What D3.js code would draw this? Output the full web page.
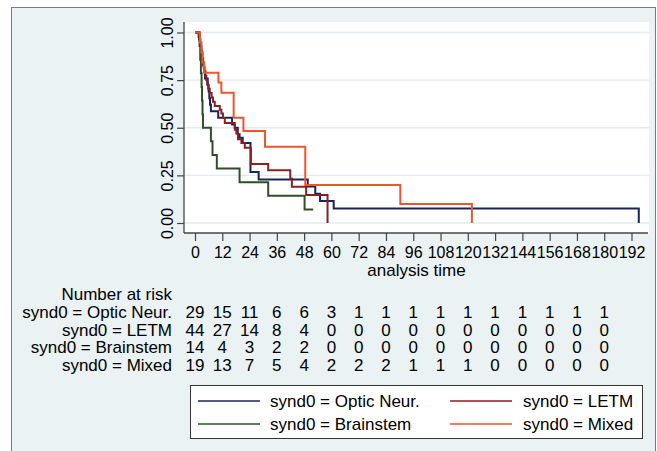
<!DOCTYPE html>
<html><head><meta charset="utf-8">
<script src="https://cdn.jsdelivr.net/npm/d3@7/dist/d3.min.js"></script>
<style>
html,body{margin:0;padding:0;background:#fff;}
svg text{font-family:"Liberation Sans",Arial,sans-serif;fill:#000;}
</style></head>
<body>
<svg id="chart" width="657" height="451"></svg>
<script>
// ---- data ----
const xTicks = [0,12,24,36,48,60,72,84,96,108,120,132,144,156,168,180,192];
const yTicks = [0,0.25,0.5,0.75,1];
const seriesNames = ["synd0 = Optic Neur.","synd0 = LETM","synd0 = Brainstem","synd0 = Mixed"];

const opticTime = [0,1.8,2.3,2.8,3.2,3.6,4.0,4.4,5.6,6.0,6.3,6.6,7.0,10.2,16.3,17.5,18.8,19.6,21.0,24.4,28.0,49.6,52.9,55.0,61.0,195.2];
const opticSurv = [1,0.966,0.931,0.897,0.862,0.828,0.793,0.759,0.724,0.69,0.655,0.621,0.586,0.552,0.517,0.5,0.466,0.448,0.42,0.268,0.229,0.191,0.153,0.115,0.076,0];

const letmTime = [0,1.6,2.0,2.3,2.6,2.9,3.2,3.5,3.8,4.2,4.6,5.0,5.4,5.8,6.5,7.3,7.9,8.7,10.9,11.6,12.3,13.1,17.5,18.2,18.9,20.4,21.9,24.6,32.2,41.9,42.6,48.9,58.3];
const letmSurv = [1,0.977,0.955,0.932,0.909,0.886,0.864,0.841,0.818,0.795,0.773,0.75,0.727,0.705,0.682,0.659,0.636,0.614,0.594,0.575,0.551,0.525,0.49,0.47,0.44,0.42,0.395,0.31,0.277,0.233,0.19,0.147,0];

const brainTime = [0,2.0,2.3,2.6,2.9,3.1,3.3,3.5,7.0,7.7,9.6,19.6,32.2,48.2,52.0];
const brainSurv = [1,0.929,0.857,0.786,0.714,0.643,0.571,0.5,0.429,0.357,0.286,0.214,0.143,0.071,0.071];

const mixedTime = [0,2.2,2.8,3.3,4.0,10.3,11.6,17.0,21.3,30.8,48.5,90.3,121.8];
const mixedSurv = [1,0.947,0.895,0.842,0.789,0.737,0.684,0.553,0.483,0.40,0.20,0.10,0];

const riskOptic = [29,15,11,6,6,3,1,1,1,1,1,1,1,1,1,1];
const riskLetm  = [44,27,14,8,4,0,0,0,0,0,0,0,0,0,0,0];
const riskBrain = [14,4,3,2,2,0,0,0,0,0,0,0,0,0,0,0];
const riskMixed = [19,13,7,5,4,2,2,2,1,1,1,0,0,0,0,0];
const riskTimes = [0,12,24,36,48,60,72,84,96,108,120,132,144,156,168,180];

// ---- layout ----
const colors = ["#1a2458","#8a1f25","#2f4f27","#f2542b"];
const svg = d3.select("#chart");
const plot = {left:184, right:649, top:22, bottom:233};
const x = d3.scaleLinear().domain([0,192]).range([195,631.5]);
const y = d3.scaleLinear().domain([0,1]).range([223,32.5]);

// outer background + frame
svg.append("rect").attr("x",11.5).attr("y",7.5).attr("width",644).attr("height",460)
  .attr("fill","#eaf2f3").attr("stroke","#7a7a7a").attr("stroke-width",1);

// plot region
svg.append("rect").attr("x",plot.left).attr("y",plot.top)
  .attr("width",plot.right-plot.left).attr("height",plot.bottom-plot.top).attr("fill","#ffffff");

// gridlines
svg.append("g").selectAll("line").data(yTicks).join("line")
  .attr("x1",plot.left).attr("x2",plot.right)
  .attr("y1",d=>y(d)).attr("y2",d=>y(d))
  .attr("stroke","#e0ecee").attr("stroke-width",1.4);

// y axis
const yAxis = d3.axisLeft(y).tickValues(yTicks).tickFormat(d3.format(".2f")).tickSize(7).tickPadding(4);
const gy = svg.append("g").attr("transform",`translate(${plot.left},0)`).call(yAxis);
gy.select(".domain").remove();
gy.selectAll(".tick line").attr("stroke","#444").attr("stroke-width",1.2);
gy.selectAll(".tick text").attr("x",null).attr("dy",null)
  .attr("text-anchor","middle")
  .attr("transform","translate(-11,0) rotate(-90)")
  .attr("font-size",16).attr("fill","#000");
svg.append("line").attr("x1",plot.left).attr("x2",plot.left).attr("y1",plot.top).attr("y2",plot.bottom)
  .attr("stroke","#444").attr("stroke-width",1.3);

// x axis
const xAxis = d3.axisBottom(x).tickValues(xTicks).tickFormat(d3.format("d")).tickSize(8).tickPadding(6);
const gx = svg.append("g").attr("transform",`translate(0,${plot.bottom})`).call(xAxis);
gx.select(".domain").remove();
gx.selectAll(".tick line").attr("stroke","#444").attr("stroke-width",1.2);
gx.selectAll(".tick text").attr("font-size",16).attr("fill","#000");
svg.append("line").attr("x1",plot.left).attr("x2",plot.right-1).attr("y1",plot.bottom).attr("y2",plot.bottom)
  .attr("stroke","#444").attr("stroke-width",1.3);

svg.append("text").attr("x",(plot.left+plot.right)/2).attr("y",276)
  .attr("text-anchor","middle").attr("font-size",17).text("analysis time");

// curves
const series = [
  {t:opticTime,s:opticSurv},
  {t:letmTime,s:letmSurv},
  {t:brainTime,s:brainSurv},
  {t:mixedTime,s:mixedSurv}
];
const line = d3.line().x(d=>x(d[0])).y(d=>y(d[1])).curve(d3.curveStepAfter);
series.forEach((sr,i)=>{
  const pts = sr.t.map((t,j)=>[t,sr.s[j]]);
  svg.append("path").attr("d",line(pts)).attr("fill","none")
    .attr("stroke",colors[i]).attr("stroke-width",2);
});

// number at risk table
const labelX = 172;
svg.append("text").attr("x",labelX).attr("y",300).attr("text-anchor","end").attr("font-size",17).text("Number at risk");
const risks = [riskOptic,riskLetm,riskBrain,riskMixed];
const rowY = [318,335.5,353,370.5];
risks.forEach((r,i)=>{
  svg.append("text").attr("x",labelX).attr("y",rowY[i]).attr("text-anchor","end").attr("font-size",17).text(seriesNames[i]);
  svg.append("g").selectAll("text").data(r).join("text")
    .attr("x",(d,j)=>x(riskTimes[j])).attr("y",rowY[i])
    .attr("text-anchor","middle").attr("font-size",17).text(d=>d);
});

// legend
svg.append("rect").attr("x",190.5).attr("y",385.5).attr("width",452).attr("height",53)
  .attr("fill","#fff").attr("stroke","#333").attr("stroke-width",1);
const legPos = [[198,401,270],[450,401,523],[198,424,270],[450,424,523]];
seriesNames.forEach((nm,i)=>{
  const p = legPos[i];
  svg.append("line").attr("x1",p[0]).attr("x2",p[0]+62).attr("y1",p[1]).attr("y2",p[1])
    .attr("stroke",colors[i]).attr("stroke-width",1.7);
  svg.append("text").attr("x",p[2]).attr("y",p[1]+6).attr("font-size",17).text(nm);
});
</script>
</body></html>
